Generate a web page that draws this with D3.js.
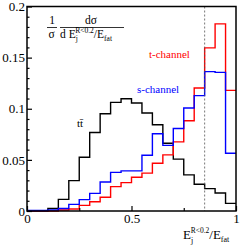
<!DOCTYPE html>
<html><head><meta charset="utf-8">
<script src="https://cdn.jsdelivr.net/npm/d3@7"></script>
<style>html,body{margin:0;padding:0;background:#fff;}svg{display:block;}
text{font-family:"Liberation Serif","Times New Roman","DejaVu Serif",serif;}</style>
</head><body>
<script>
// ---- data ----
const binEdges = [0,0.05,0.1,0.15,0.2,0.25,0.3,0.35,0.4,0.45,0.5,0.55,0.6,0.65,0.7,0.75,0.8,0.85,0.9,0.95,1.0];
const ttbar = [0,0,0.0026,0.0114,0.0297,0.0526,0.0768,0.0951,0.1062,0.1098,0.1056,0.0958,0.0843,0.0663,0.0507,0.0353,0.0261,0.0219,0.0176,0.0075];
const tchan = [0,0,0,0.001,0.002,0.0055,0.009,0.0135,0.0238,0.0278,0.033,0.037,0.0467,0.0549,0.0676,0.0882,0.1203,0.1595,0.183,0.118];
const schan = [0.0005,0.0005,0.001,0.0025,0.0065,0.0111,0.0172,0.0284,0.0378,0.0392,0.0392,0.0545,0.0756,0.0642,0.0807,0.1007,0.1128,0.1363,0.1356,0.0565];
const yMajor = [0,0.05,0.1,0.15,0.2];
const yMajorLabels = ["0","0.05","0.1","0.15","0.2"];
const xMajor = [0,0.5,1];
const xMajorLabels = ["0","0.5","1"];
const xMinor = [0.25,0.75];
const cutValue = 0.85;

const W=248,H=249;
const svg=d3.select("body").append("svg").attr("width",W).attr("height",H);
const x=d3.scaleLinear().domain([0,1]).range([27,236]);
const y=d3.scaleLinear().domain([0,0.2]).range([211,6.5]);
const serif='"Liberation Serif","Times New Roman","DejaVu Serif",serif';

// histograms
function stepPath(vals){
  let p=[];
  vals.forEach((v,i)=>{p.push([x(binEdges[i]),y(v)]);p.push([x(binEdges[i+1]),y(v)]);});
  return d3.line()(p);
}
const series=[{v:ttbar,c:"#000"},{v:tchan,c:"#ff0000"},{v:schan,c:"#0000ff"}];
svg.selectAll("path.h").data(series).enter().append("path").attr("class","h")
  .attr("d",d=>stepPath(d.v)).attr("fill","none").attr("stroke",d=>d.c).attr("stroke-width",1.4);

// dashed cut line
svg.append("line").attr("x1",x(cutValue)).attr("x2",x(cutValue)).attr("y1",y(0.2)).attr("y2",y(0))
  .attr("stroke","#555").attr("stroke-width",0.8).attr("stroke-dasharray","2,2");

// frame
svg.append("rect").attr("x",x(0)).attr("y",y(0.2)).attr("width",x(1)-x(0)).attr("height",y(0)-y(0.2))
  .attr("fill","none").attr("stroke","#000").attr("stroke-width",1.5);

// y axis
const yMinor=d3.range(0,0.2001,0.01).filter(v=>!yMajor.some(m=>Math.abs(m-v)<1e-6));
const ya=svg.append("g").attr("transform",`translate(${x(0)},0)`)
  .call(d3.axisLeft(y).tickValues(yMajor).tickSize(-5).tickPadding(2).tickFormat((d,i)=>yMajorLabels[i]));
ya.append("g").call(d3.axisLeft(y).tickValues(yMinor).tickSize(-2.5).tickFormat(""));
// x axis
const xa=svg.append("g").attr("transform",`translate(0,${y(0)})`)
  .call(d3.axisBottom(x).tickValues(xMajor).tickSize(-5).tickPadding(3).tickFormat((d,i)=>xMajorLabels[i]));
xa.append("g").call(d3.axisBottom(x).tickValues(xMinor).tickSize(-3).tickFormat(""));
svg.selectAll(".domain").remove();
svg.selectAll("g").attr("font-family",serif);
svg.selectAll(".tick line").attr("stroke","#000").attr("stroke-width",1.2);
svg.selectAll(".tick text").style("font-family",serif).attr("font-size",13).attr("fill","#000");

// y-axis formula
const f=svg.append("g").attr("fill","#000");
f.append("text").attr("x",52).attr("y",24).attr("font-size",11.5).attr("text-anchor","middle").text("1");
f.append("line").attr("x1",47).attr("x2",57).attr("y1",27.5).attr("y2",27.5).attr("stroke","#000").attr("stroke-width",0.8);
f.append("text").attr("x",51.5).attr("y",37.5).attr("font-size",11.5).attr("text-anchor","middle").text("σ");
f.append("text").attr("x",91).attr("y",24).attr("font-size",11.5).attr("text-anchor","middle").text("dσ");
f.append("line").attr("x1",60).attr("x2",124).attr("y1",27.5).attr("y2",27.5).attr("stroke","#000").attr("stroke-width",0.8);
const den=f.append("text").attr("x",60).attr("y",38).attr("font-size",11.5);
den.append("tspan").text("d E");
den.append("tspan").attr("font-size",7.5).attr("dy",3).text("j");
den.append("tspan").attr("font-size",7.5).attr("dx",-2.5).attr("dy",-8).text("R<0.2");
den.append("tspan").attr("dy",5).text("/E");
den.append("tspan").attr("font-size",7.5).attr("dy",3).text("fat");

// x-axis title
const xt=svg.append("text").attr("x",183).attr("y",239).attr("font-size",13);
xt.append("tspan").text("E");
xt.append("tspan").attr("font-size",8).attr("dy",4).text("j");
xt.append("tspan").attr("font-size",7.5).attr("dx",-2.5).attr("dy",-10).text("R<0.2");
xt.append("tspan").attr("dy",6).text("/E");
xt.append("tspan").attr("font-size",8).attr("dy",3).text("fat");

// legend-like labels
svg.append("text").attr("x",149).attr("y",58).attr("font-size",11).attr("fill","#ff0000").text("t-channel");
svg.append("text").attr("x",137).attr("y",93).attr("font-size",11).attr("fill","#0000ff").text("s-channel");
svg.append("text").attr("x",77).attr("y",127).attr("font-size",11).attr("fill","#000").text("tt\u0304");
</script>
</body></html>
